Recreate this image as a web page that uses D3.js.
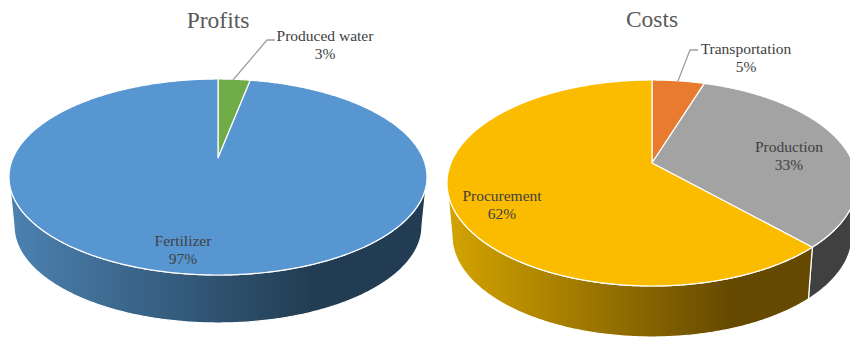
<!DOCTYPE html>
<html>
<head>
<meta charset="utf-8">
<script src="https://cdn.jsdelivr.net/npm/d3@7"></script>
<style>
  html, body { margin: 0; padding: 0; background: #fff; }
  svg { display: block; }
  text { font-family: "Liberation Serif", serif; text-anchor: middle; }
</style>
</head>
<body>
<svg id="chart" width="850" height="338"></svg>
<script>
// Share of each category, clockwise from twelve o'clock
const profitNames = ["Produced water", "Fertilizer"];
const profitShares = [3, 97];
const costNames = ["Transportation", "Production", "Procurement"];
const costShares = [5, 33, 62];

const profitTopColors = ["#6fab47", "#5896d2"];
const profitSideColors = ["#46702d", ["#4c82b1", "#223d53"]];
const costTopColors = ["#e97b30", "#a3a3a3", "#fbbc00"];
const costSideColors = ["#90491b", "#404040", ["#d4a400", "#654900"]];

const svg = d3.select("#chart");
const defs = svg.append("defs");

// Perspective tilt: how far the pie's hub sits above the centre of its outline
const tilt = 0.194;

// Angle on the flat disc -> unit position on the tilted outline
function project(theta) {
  const u = Math.sin(theta), v = -Math.cos(theta);
  const den = 1 - tilt * v;
  return [u * Math.sqrt(1 - tilt * tilt) / den, (v - tilt) / den];
}

const onRim = (rim, theta) => {
  const [x, y] = project(theta);
  return [rim.cx + rim.rx * x, rim.cy + rim.ry * y];
};

const pathLine = d3.line().curve(d3.curveLinear);

function arcAngles(a0, a1) {
  const n = Math.max(2, Math.ceil((a1 - a0) / 0.01));
  return d3.range(n + 1).map(i => a0 + (a1 - a0) * i / n);
}

function drawPie(cfg) {
  const g = svg.append("g");
  const arcs = d3.pie().sort(null)(cfg.shares);
  const hub = [cfg.top.cx, cfg.top.cy + cfg.top.ry * -tilt];

  // Angle where the rim turns from back to front (right and left extremes)
  const frontStart = Math.acos(-tilt);
  const frontEnd = 2 * Math.PI - frontStart;

  // Side wall of each slice, front half only
  arcs.forEach((d, i) => {
    const a0 = Math.max(d.startAngle, frontStart);
    const a1 = Math.min(d.endAngle, frontEnd);
    if (a1 <= a0) return;
    const angles = arcAngles(a0, a1);
    const pts = angles.map(a => onRim(cfg.top, a))
      .concat(angles.slice().reverse().map(a => onRim(cfg.bottom, a)));
    let fill = cfg.sideColors[i];
    if (Array.isArray(fill)) {
      const id = cfg.id + "-side-" + i;
      const grad = defs.append("linearGradient").attr("id", id)
        .attr("x1", 0).attr("x2", 1).attr("y1", 0).attr("y2", 0);
      grad.append("stop").attr("offset", 0).attr("stop-color", fill[0]);
      grad.append("stop").attr("offset", cfg.gradientEnd).attr("stop-color", fill[1]);
      grad.append("stop").attr("offset", 1).attr("stop-color", fill[1]);
      fill = `url(#${id})`;
    }
    g.append("path").attr("d", pathLine(pts) + "Z")
      .attr("fill", fill).attr("stroke", "#fff").attr("stroke-width", 1.2)
      .attr("stroke-linejoin", "round");
  });

  // Top face of each slice
  arcs.forEach((d, i) => {
    const pts = [hub].concat(arcAngles(d.startAngle, d.endAngle).map(a => onRim(cfg.top, a)));
    g.append("path").attr("d", pathLine(pts) + "Z")
      .attr("fill", cfg.topColors[i]).attr("stroke", "#fff").attr("stroke-width", 1.2)
      .attr("stroke-linejoin", "round");
  });

  // Leader line for the slice labelled outside the pie
  g.append("path").attr("d", pathLine(cfg.leader))
    .attr("fill", "none").attr("stroke", "#a0a0a0").attr("stroke-width", 1.3);

  // Title
  g.append("text").attr("x", cfg.top.cx).attr("y", cfg.titleY)
    .attr("font-size", 23.5).attr("fill", "#595959").text(cfg.title);

  // Category name with its percentage beneath
  arcs.forEach((d, i) => {
    const [x, y] = cfg.labelAt[i];
    g.append("text").attr("x", x).attr("y", y)
      .attr("font-size", 15.5).attr("fill", "#404040").text(cfg.names[i]);
    g.append("text").attr("x", x).attr("y", y + 18)
      .attr("font-size", 15.5).attr("fill", "#404040")
      .text(d3.format(".0%")(d.value / d3.sum(cfg.shares)));
  });
}

drawPie({
  id: "profits", title: "Profits", titleY: 28,
  names: profitNames, shares: profitShares,
  topColors: profitTopColors, sideColors: profitSideColors, gradientEnd: 0.72,
  top: { cx: 218, cy: 177, rx: 209, ry: 98 },
  bottom: { cx: 218, cy: 226, rx: 204, ry: 97 },
  leader: [[233, 80], [267, 40], [275, 40]],
  labelAt: [[325, 41], [183, 246]]
});

drawPie({
  id: "costs", title: "Costs", titleY: 27,
  names: costNames, shares: costShares,
  topColors: costTopColors, sideColors: costSideColors, gradientEnd: 0.78,
  top: { cx: 652, cy: 183, rx: 205, ry: 103 },
  bottom: { cx: 652, cy: 236, rx: 200, ry: 101 },
  leader: [[678, 81], [690, 50], [698, 50]],
  labelAt: [[746, 54], [789, 152], [502, 201]]
});
</script>
</body>
</html>
